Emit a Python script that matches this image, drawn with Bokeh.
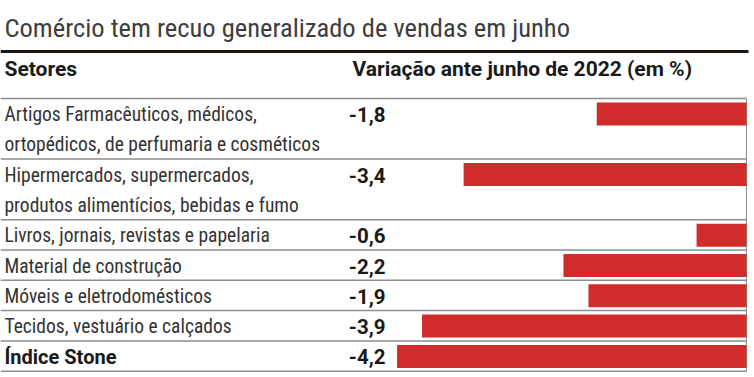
from bokeh.plotting import figure
from bokeh.models import Range1d, ColumnDataSource
from bokeh.embed import file_html
from bokeh.resources import INLINE
from bokeh.core.properties import value

# ---------------- data ----------------
title_text = "Comércio tem recuo generalizado de vendas em junho"
header_left = "Setores"
header_right = "Variação ante junho de 2022 (em %)"

sector_lines = [
    ["Artigos Farmacêuticos, médicos,", "ortopédicos, de perfumaria e cosméticos"],
    ["Hipermercados, supermercados,", "produtos alimentícios, bebidas e fumo"],
    ["Livros, jornais, revistas e papelaria"],
    ["Material de construção"],
    ["Móveis e eletrodomésticos"],
    ["Tecidos, vestuário e calçados"],
    ["Índice Stone"],
]
changes = [-1.8, -3.4, -0.6, -2.2, -1.9, -3.9, -4.2]
change_labels = ["-1,8", "-3,4", "-0,6", "-2,2", "-1,9", "-3,9", "-4,2"]
bold_row = [False, False, False, False, False, False, True]

# ---------------- layout ----------------
W, H = 750, 374
PX_PER_UNIT = 83.2
BAR_END_PX = 746
XMIN = -BAR_END_PX / PX_PER_UNIT
XMAX = (W - BAR_END_PX) / PX_PER_UNIT
FONT_C = "Roboto Condensed"
FONT_B = "Roboto"
RED = "#d12b2b"
SEP_COLOR = "#8c8c8c"

HEADER_SEP = 98.0
LINE_PITCH = 30.3
TEXT_DY = 16.0
BAR_DY = 15.5
BAR_H = 23

tops = []
seps = [HEADER_SEP]
y = HEADER_SEP
for lines in sector_lines:
    tops.append(y)
    y += LINE_PITCH * len(lines)
    seps.append(y)

p = figure(width=W, height=H, output_backend="svg", toolbar_location=None,
           x_range=Range1d(XMIN, XMAX), y_range=Range1d(H, 0),
           x_axis_type=None, y_axis_type=None, min_border=0,
           outline_line_color=None, background_fill_color="white",
           border_fill_color="white")

# title
p.text(x=[XMIN], y=[27], x_offset=4, text=[title_text], text_font=value(FONT_C),
       text_font_size="26.5px", text_color="#3d3d3d", text_baseline="alphabetic",
       text_align="left")

# thick rule
p.segment(x0=[XMIN], x1=[2 / PX_PER_UNIT], y0=[51], y1=[51], line_color="#1c1712", line_width=3)

# headers
p.text(x=[XMIN], y=[68.5], x_offset=4, text=[header_left], text_font=value(FONT_B),
       text_font_size="21px", text_font_style="bold", text_color="#1a1a1a",
       text_baseline="middle")
p.text(x=[XMIN], y=[68.5], x_offset=352, text=[header_right], text_font=value(FONT_B),
       text_font_size="21px", text_font_style="bold", text_color="#1a1a1a",
       text_baseline="middle")

# separators
p.segment(x0=[XMIN] * len(seps), x1=[0] * len(seps), y0=seps, y1=seps,
          line_color=SEP_COLOR, line_width=1.5)
p.segment(x0=[0], x1=[0], y0=[HEADER_SEP], y1=[seps[-1]],
          line_color=SEP_COLOR, line_width=1)

# bars
bar_src = ColumnDataSource(dict(y=[t + BAR_DY for t in tops], left=changes,
                                right=[0] * len(changes)))
p.hbar(y="y", left="left", right="right", height=BAR_H, source=bar_src,
       fill_color=RED, line_color=None)

# row labels
norm_x, norm_y, norm_t = [], [], []
bold_x, bold_y, bold_t = [], [], []
for t, lines, b in zip(tops, sector_lines, bold_row):
    for k, line in enumerate(lines):
        if b:
            bold_x.append(XMIN); bold_y.append(t + TEXT_DY + k * 30); bold_t.append(line)
        else:
            norm_x.append(XMIN); norm_y.append(t + TEXT_DY + k * 30); norm_t.append(line)

p.text(x=norm_x, y=norm_y, x_offset=4, text=norm_t, text_font=value(FONT_C),
       text_font_size="19.5px", text_color="#333333", text_baseline="middle")
p.text(x=bold_x, y=bold_y, x_offset=4, text=bold_t, text_font=value(FONT_B),
       text_font_size="20px", text_font_style="bold", text_color="#1a1a1a",
       text_baseline="middle")

# value labels
p.text(x=[XMIN] * len(changes), y=[t + TEXT_DY for t in tops], x_offset=385,
       text=change_labels, text_font=value(FONT_B), text_font_size="20.5px",
       text_font_style="bold", text_color="#1a1a1a", text_baseline="middle",
       text_align="right")

open("out.html", "w").write(file_html(p, INLINE))
